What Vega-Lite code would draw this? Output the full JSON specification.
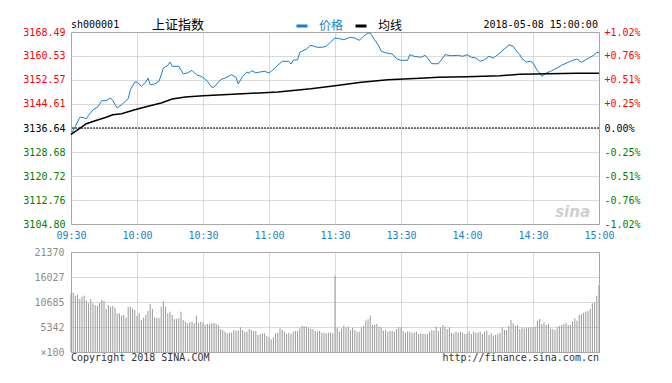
{
  "$schema": "https://vega.github.io/schema/vega-lite/v6.json",
  "autosize": {"type": "pad"},
  "padding": {"left": 22, "top": 18, "right": 33, "bottom": 20},
  "background": "white",
  "spacing": 28,
  "bounds": "flush",
  "config": {
    "view": {"stroke": "#999999", "strokeWidth": 1},
    "axis": {"domain": false, "ticks": false, "gridColor": "#b4b4b4", "gridDash": [1, 1], "gridWidth": 1, "labelFont": "DejaVu Sans Mono", "labelFontSize": 10, "labelFlush": false, "labelOverlap": false, "labelPadding": 5}
  },
  "datasets": {
    "price": [
      {"m":0,"s":"价格","v":3134.32},{"m":4,"s":"价格","v":3140.19},{"m":5,"s":"价格","v":3140.19},{"m":7,"s":"价格","v":3139.73},{"m":8,"s":"价格","v":3140.86},{"m":10,"s":"价格","v":3142.72},{"m":12,"s":"价格","v":3143.51},{"m":13,"s":"价格","v":3144.61},{"m":14,"s":"价格","v":3145.70},{"m":16,"s":"价格","v":3145.70},{"m":18,"s":"价格","v":3146.60},{"m":19,"s":"价格","v":3145.70},{"m":21,"s":"价格","v":3143.28},{"m":23,"s":"价格","v":3144.37},{"m":26,"s":"价格","v":3146.36},{"m":27,"s":"价格","v":3149.35},{"m":29,"s":"价格","v":3151.90},{"m":30,"s":"价格","v":3151.90},{"m":32,"s":"价格","v":3150.48},{"m":34,"s":"价格","v":3151.90},{"m":35,"s":"价格","v":3153.23},{"m":36,"s":"价格","v":3151.01},{"m":38,"s":"价格","v":3151.24},{"m":40,"s":"价格","v":3152.14},{"m":42,"s":"价格","v":3156.55},{"m":44,"s":"价格","v":3157.44},{"m":45,"s":"价格","v":3158.54},{"m":46,"s":"价格","v":3157.11},{"m":49,"s":"价格","v":3157.11},{"m":51,"s":"价格","v":3154.66},{"m":53,"s":"价格","v":3154.89},{"m":55,"s":"价格","v":3155.79},{"m":57,"s":"价格","v":3154.33},{"m":59,"s":"价格","v":3153.79},{"m":60,"s":"价格","v":3153.46},{"m":62,"s":"价格","v":3152.14},{"m":64,"s":"价格","v":3150.15},{"m":65,"s":"价格","v":3150.15},{"m":68,"s":"价格","v":3152.67},{"m":70,"s":"价格","v":3153.23},{"m":73,"s":"价格","v":3154.33},{"m":75,"s":"价格","v":3153.46},{"m":76,"s":"价格","v":3151.24},{"m":78,"s":"价格","v":3153.79},{"m":80,"s":"价格","v":3155.22},{"m":81,"s":"价格","v":3154.79},{"m":82,"s":"价格","v":3155.65},{"m":84,"s":"价格","v":3154.99},{"m":86,"s":"价格","v":3155.22},{"m":88,"s":"价格","v":3155.45},{"m":90,"s":"价格","v":3154.89},{"m":91,"s":"价格","v":3155.45},{"m":93,"s":"价格","v":3156.78},{"m":96,"s":"价格","v":3158.77},{"m":99,"s":"价格","v":3158.77},{"m":100,"s":"价格","v":3157.88},{"m":101,"s":"价格","v":3159.10},{"m":103,"s":"价格","v":3159.30},{"m":104,"s":"价格","v":3161.76},{"m":107,"s":"价格","v":3162.85},{"m":109,"s":"价格","v":3164.08},{"m":112,"s":"价格","v":3163.41},{"m":114,"s":"价格","v":3163.41},{"m":116,"s":"价格","v":3163.75},{"m":118,"s":"价格","v":3165.17},{"m":120,"s":"价格","v":3166.50},{"m":122,"s":"价格","v":3166.27},{"m":124,"s":"价格","v":3165.94},{"m":127,"s":"价格","v":3166.73},{"m":129,"s":"价格","v":3166.50},{"m":131,"s":"价格","v":3165.74},{"m":133,"s":"价格","v":3167.06},{"m":135,"s":"价格","v":3168.16},{"m":136,"s":"价格","v":3168.16},{"m":138,"s":"价格","v":3165.94},{"m":140,"s":"价格","v":3163.75},{"m":141,"s":"价格","v":3162.09},{"m":143,"s":"价格","v":3161.62},{"m":146,"s":"价格","v":3161.19},{"m":148,"s":"价格","v":3159.63},{"m":150,"s":"价格","v":3159.10},{"m":153,"s":"价格","v":3159.10},{"m":154,"s":"价格","v":3160.96},{"m":156,"s":"价格","v":3160.43},{"m":159,"s":"价格","v":3160.10},{"m":161,"s":"价格","v":3160.76},{"m":162,"s":"价格","v":3159.87},{"m":164,"s":"价格","v":3157.97},{"m":167,"s":"价格","v":3157.97},{"m":169,"s":"价格","v":3159.87},{"m":170,"s":"价格","v":3160.96},{"m":173,"s":"价格","v":3160.63},{"m":176,"s":"价格","v":3160.76},{"m":178,"s":"价格","v":3160.43},{"m":180,"s":"价格","v":3160.96},{"m":182,"s":"价格","v":3160.10},{"m":184,"s":"价格","v":3159.87},{"m":186,"s":"价格","v":3158.77},{"m":188,"s":"价格","v":3159.30},{"m":190,"s":"价格","v":3160.43},{"m":192,"s":"价格","v":3159.87},{"m":195,"s":"价格","v":3161.52},{"m":197,"s":"价格","v":3162.95},{"m":198,"s":"价格","v":3163.41},{"m":199,"s":"价格","v":3164.28},{"m":201,"s":"价格","v":3163.75},{"m":202,"s":"价格","v":3162.62},{"m":204,"s":"价格","v":3160.96},{"m":205,"s":"价格","v":3159.63},{"m":207,"s":"价格","v":3158.54},{"m":209,"s":"价格","v":3158.77},{"m":210,"s":"价格","v":3158.21},{"m":212,"s":"价格","v":3155.65},{"m":213,"s":"价格","v":3154.89},{"m":214,"s":"价格","v":3153.79},{"m":216,"s":"价格","v":3154.89},{"m":218,"s":"价格","v":3155.45},{"m":220,"s":"价格","v":3156.22},{"m":223,"s":"价格","v":3157.44},{"m":226,"s":"价格","v":3158.44},{"m":228,"s":"价格","v":3159.10},{"m":230,"s":"价格","v":3159.53},{"m":232,"s":"价格","v":3158.44},{"m":234,"s":"价格","v":3159.30},{"m":236,"s":"价格","v":3160.10},{"m":238,"s":"价格","v":3160.96},{"m":239,"s":"价格","v":3161.76},{"m":240,"s":"价格","v":3161.52},
      {"m":0,"s":"均线","v":3134.50},{"m":4,"s":"均线","v":3136.50},{"m":7,"s":"均线","v":3138.07},{"m":11,"s":"均线","v":3139.07},{"m":16,"s":"均线","v":3140.19},{"m":19,"s":"均线","v":3141.06},{"m":23,"s":"均线","v":3141.39},{"m":29,"s":"均线","v":3142.72},{"m":35,"s":"均线","v":3143.84},{"m":41,"s":"均线","v":3144.94},{"m":46,"s":"均线","v":3146.26},{"m":52,"s":"均线","v":3146.93},{"m":60,"s":"均线","v":3147.36},{"m":69,"s":"均线","v":3147.69},{"m":78,"s":"均线","v":3148.02},{"m":94,"s":"均线","v":3148.59},{"m":109,"s":"均线","v":3149.68},{"m":120,"s":"均线","v":3150.68},{"m":132,"s":"均线","v":3151.80},{"m":144,"s":"均线","v":3152.67},{"m":161,"s":"均线","v":3153.23},{"m":167,"s":"均线","v":3153.46},{"m":180,"s":"均线","v":3153.66},{"m":195,"s":"均线","v":3153.99},{"m":204,"s":"均线","v":3154.46},{"m":230,"s":"均线","v":3154.79},{"m":240,"s":"均线","v":3154.79}
    ],
    "vol": [
      {"m":0,"v":12500},{"m":1,"v":12720},{"m":2,"v":12080},{"m":3,"v":12290},{"m":4,"v":11370},{"m":5,"v":11870},{"m":6,"v":12080},{"m":7,"v":11020},{"m":8,"v":10450},{"m":9,"v":11370},{"m":10,"v":10450},{"m":11,"v":10100},{"m":12,"v":9960},{"m":13,"v":10590},{"m":14,"v":11160},{"m":15,"v":10950},{"m":16,"v":9250},{"m":17,"v":10100},{"m":18,"v":9740},{"m":19,"v":9880},{"m":20,"v":9530},{"m":21,"v":8320},{"m":22,"v":8320},{"m":23,"v":7830},{"m":24,"v":7970},{"m":25,"v":7400},{"m":26,"v":9740},{"m":27,"v":9740},{"m":28,"v":9390},{"m":29,"v":9030},{"m":30,"v":7830},{"m":31,"v":8470},{"m":32,"v":6910},{"m":33,"v":7400},{"m":34,"v":7970},{"m":35,"v":8820},{"m":36,"v":10310},{"m":37,"v":9250},{"m":38,"v":7400},{"m":39,"v":7400},{"m":40,"v":7260},{"m":41,"v":9740},{"m":42,"v":10810},{"m":43,"v":9740},{"m":44,"v":8320},{"m":45,"v":8680},{"m":46,"v":7970},{"m":47,"v":7120},{"m":48,"v":7120},{"m":49,"v":7260},{"m":50,"v":8680},{"m":51,"v":6910},{"m":52,"v":6550},{"m":53,"v":6200},{"m":54,"v":6410},{"m":55,"v":6550},{"m":56,"v":6200},{"m":57,"v":7830},{"m":58,"v":6200},{"m":59,"v":6550},{"m":60,"v":6410},{"m":61,"v":5840},{"m":62,"v":6060},{"m":63,"v":6060},{"m":64,"v":6270},{"m":65,"v":6270},{"m":66,"v":6060},{"m":67,"v":5840},{"m":68,"v":4990},{"m":69,"v":4780},{"m":70,"v":4420},{"m":71,"v":4070},{"m":72,"v":4210},{"m":73,"v":4210},{"m":74,"v":4780},{"m":75,"v":4640},{"m":76,"v":4640},{"m":77,"v":5350},{"m":78,"v":4780},{"m":79,"v":4420},
      {"m":80,"v":4420},{"m":81,"v":4990},{"m":82,"v":4780},{"m":83,"v":4570},{"m":84,"v":4570},{"m":85,"v":3720},{"m":86,"v":3930},{"m":87,"v":4070},{"m":88,"v":4070},{"m":89,"v":3500},{"m":90,"v":3220},{"m":91,"v":2790},{"m":92,"v":3220},{"m":93,"v":4070},{"m":94,"v":4210},{"m":95,"v":5130},{"m":96,"v":4780},{"m":97,"v":4420},{"m":98,"v":3930},{"m":99,"v":4210},{"m":100,"v":3930},{"m":101,"v":4420},{"m":102,"v":4570},{"m":103,"v":4570},{"m":104,"v":5130},{"m":105,"v":5630},{"m":106,"v":5630},{"m":107,"v":5490},{"m":108,"v":5350},{"m":109,"v":4990},{"m":110,"v":4990},{"m":111,"v":4570},{"m":112,"v":4420},{"m":113,"v":4570},{"m":114,"v":4210},{"m":115,"v":4210},{"m":116,"v":4070},{"m":117,"v":4210},{"m":118,"v":4210},{"m":119,"v":4070},{"m":120,"v":16270},{"m":121,"v":5280},{"m":122,"v":4420},{"m":123,"v":5130},{"m":124,"v":5700},{"m":125,"v":5280},{"m":126,"v":5490},{"m":127,"v":4780},{"m":128,"v":5280},{"m":129,"v":4780},{"m":130,"v":4420},{"m":131,"v":4420},{"m":132,"v":5350},{"m":133,"v":5630},{"m":134,"v":6760},{"m":135,"v":7050},{"m":136,"v":7830},{"m":137,"v":5840},{"m":138,"v":5840},{"m":139,"v":6060},{"m":140,"v":5490},{"m":141,"v":5350},{"m":142,"v":4640},{"m":143,"v":4780},{"m":144,"v":4420},{"m":145,"v":4570},{"m":146,"v":4570},{"m":147,"v":4420},{"m":148,"v":4990},{"m":149,"v":5350},{"m":150,"v":5350},{"m":151,"v":4570},{"m":152,"v":4210},{"m":153,"v":4420},{"m":154,"v":4420},{"m":155,"v":4210},{"m":156,"v":4210},{"m":157,"v":4420},{"m":158,"v":3930},{"m":159,"v":4070},{"m":160,"v":3930},
      {"m":161,"v":3930},{"m":162,"v":3930},{"m":163,"v":4420},{"m":164,"v":4780},{"m":165,"v":4640},{"m":166,"v":5490},{"m":167,"v":4570},{"m":168,"v":5350},{"m":169,"v":5840},{"m":170,"v":5490},{"m":171,"v":4990},{"m":172,"v":5350},{"m":173,"v":4210},{"m":174,"v":4070},{"m":175,"v":4420},{"m":176,"v":4210},{"m":177,"v":4420},{"m":178,"v":4210},{"m":179,"v":3930},{"m":180,"v":4070},{"m":181,"v":4420},{"m":182,"v":3930},{"m":183,"v":4420},{"m":184,"v":4210},{"m":185,"v":4210},{"m":186,"v":4420},{"m":187,"v":3930},{"m":188,"v":4420},{"m":189,"v":4640},{"m":190,"v":3720},{"m":191,"v":4070},{"m":192,"v":3570},{"m":193,"v":3720},{"m":194,"v":3930},{"m":195,"v":4210},{"m":196,"v":5350},{"m":197,"v":4780},{"m":198,"v":4780},{"m":199,"v":5630},{"m":200,"v":6910},{"m":201,"v":6200},{"m":202,"v":5630},{"m":203,"v":5840},{"m":204,"v":4990},{"m":205,"v":5350},{"m":206,"v":5130},{"m":207,"v":5280},{"m":208,"v":5280},{"m":209,"v":5350},{"m":210,"v":5350},{"m":211,"v":5490},{"m":212,"v":6760},{"m":213,"v":7120},{"m":214,"v":6060},{"m":215,"v":6340},{"m":216,"v":5840},{"m":217,"v":6060},{"m":218,"v":4990},{"m":219,"v":4990},{"m":220,"v":4780},{"m":221,"v":5350},{"m":222,"v":5630},{"m":223,"v":5840},{"m":224,"v":6060},{"m":225,"v":6340},{"m":226,"v":5840},{"m":227,"v":5840},{"m":228,"v":6550},{"m":229,"v":7260},{"m":230,"v":6760},{"m":231,"v":7970},{"m":232,"v":8180},{"m":233,"v":8470},{"m":234,"v":8680},{"m":235,"v":8820},{"m":236,"v":9250},{"m":237,"v":10450},{"m":238,"v":10660},{"m":239,"v":12080},{"m":240,"v":14350}
    ]
  },
  "vconcat": [
    {
      "width": 528,
      "height": 192,
      "resolve": {"scale": {"y": "shared"}, "axis": {"y": "independent"}},
      "layer": [
        {
          "data": {"name": "price"},
          "mark": {"type": "line", "interpolate": "linear"},
          "encoding": {
            "x": {"field": "m", "type": "quantitative", "scale": {"domain": [0, 240], "nice": false, "zero": false},
              "axis": {"values": [0, 30, 60, 90, 120, 150, 180, 210, 240], "title": null, "grid": true, "labelColor": "#1a80cc", "labelPadding": 6, "labelOverlap": false,
                "labelExpr": "['09:30','10:00','10:30','11:00','11:30','13:30','14:00','14:30','15:00'][round(datum.value / 30)]"}},
            "y": {"field": "v", "type": "quantitative", "scale": {"domain": [3104.80, 3168.49], "nice": false, "zero": false},
              "axis": {"orient": "left", "title": null, "grid": true, "values": [3104.80, 3112.76, 3120.72, 3128.68, 3136.64, 3144.61, 3152.57, 3160.53, 3168.49], "format": ".2f", "labelPadding": 6, "labelOverlap": false,
                "labelColor": {"condition": [{"test": "datum.value > 3136.7", "value": "#ff0000"}, {"test": "datum.value < 3136.6", "value": "#008000"}], "value": "#000000"}}},
            "color": {"field": "s", "type": "nominal", "scale": {"domain": ["价格", "均线"], "range": ["#1a7fcb", "#000000"]},
              "legend": {"orient": "none", "legendX": 224, "legendY": -13, "padding": 0, "direction": "horizontal", "title": null, "symbolType": "stroke", "symbolSize": 121, "symbolStrokeWidth": 3, "labelFont": "Noto Sans CJK SC", "labelFontSize": 12, "labelOffset": 10, "columnPadding": 5,
                "encode": {"labels": {"update": {"fill": {"signal": "datum.value === '价格' ? '#1a7fcb' : '#000000'"}}}}}},
            "strokeWidth": {"condition": {"test": "datum.s === '均线'", "value": 1.5}, "value": 1}
          }
        },
        {
          "data": {"values": [{"pc": 3136.64}]},
          "mark": {"type": "rule", "color": "#000000", "strokeDash": [2, 1], "strokeWidth": 1},
          "encoding": {
            "y": {"field": "pc", "type": "quantitative",
              "axis": {"orient": "right", "title": null, "grid": false, "values": [3104.80, 3112.76, 3120.72, 3128.68, 3136.64, 3144.61, 3152.57, 3160.53, 3168.49], "labelPadding": 5, "labelOverlap": false,
                "labelExpr": "(datum.value > 3136.7 ? '+' : (datum.value < 3136.6 ? '-' : '')) + format(abs(datum.value / 3136.64 - 1) * 100, '.2f') + '%'",
                "labelColor": {"condition": [{"test": "datum.value > 3136.7", "value": "#ff0000"}, {"test": "datum.value < 3136.6", "value": "#008000"}], "value": "#000000"}}}
          }
        },
        {
          "data": {"values": [{"t": "sh000001"}]},
          "mark": {"type": "text", "align": "left", "baseline": "alphabetic", "font": "DejaVu Sans Mono", "fontSize": 10, "color": "#000000"},
          "encoding": {"x": {"datum": 0, "type": "quantitative"}, "y": {"datum": 3169.8, "type": "quantitative", "axis": null}, "text": {"field": "t"}}
        },
        {
          "data": {"values": [{"t": "上证指数"}]},
          "mark": {"type": "text", "align": "center", "baseline": "middle", "font": "Noto Sans CJK SC", "fontSize": 13, "color": "#000000"},
          "encoding": {"x": {"datum": 48.6, "type": "quantitative"}, "y": {"datum": 3170.8, "type": "quantitative", "axis": null}, "text": {"field": "t"}}
        },
        {
          "data": {"values": [{"t": "2018-05-08 15:00:00"}]},
          "mark": {"type": "text", "align": "right", "baseline": "alphabetic", "font": "DejaVu Sans Mono", "fontSize": 10, "color": "#000000"},
          "encoding": {"x": {"datum": 239.5, "type": "quantitative"}, "y": {"datum": 3169.8, "type": "quantitative", "axis": null}, "text": {"field": "t"}}
        },
        {
          "data": {"values": [{"t": "sina"}]},
          "mark": {"type": "text", "align": "center", "baseline": "alphabetic", "font": "DejaVu Sans", "fontSize": 15, "fontStyle": "italic", "fontWeight": "bold", "color": "#cfcfcf"},
          "encoding": {"x": {"datum": 228, "type": "quantitative"}, "y": {"datum": 3107.0, "type": "quantitative", "axis": null}, "text": {"field": "t"}}
        }
      ]
    },
    {
      "width": 528,
      "height": 100,
      "layer": [
        {
          "data": {"name": "vol"},
          "mark": {"type": "rule", "color": "#999999", "strokeWidth": 1},
          "encoding": {
            "x": {"field": "m", "type": "quantitative", "scale": {"domain": [0, 240], "nice": false, "zero": false},
              "axis": {"values": [0, 30, 60, 90, 120, 150, 180, 210, 240], "title": null, "grid": true, "labels": false}},
            "y": {"field": "v", "type": "quantitative", "scale": {"domain": [100, 21370], "nice": false, "zero": false},
              "axis": {"title": null, "grid": true, "values": [100, 5342, 10685, 16027, 21370], "labelColor": "#8c8c8c", "labelPadding": 7, "labelOverlap": false, "labelSeparation": 0,
                "labelExpr": "datum.value == 100 ? '×100' : format(datum.value, 'd')"}},
            "y2": {"datum": 100}
          }
        },
        {
          "data": {"values": [{"t": "Copyright 2018 SINA.COM"}]},
          "mark": {"type": "text", "align": "left", "baseline": "top", "dy": 1, "font": "DejaVu Sans Mono", "fontSize": 10, "color": "#333333"},
          "encoding": {
            "x": {"datum": 0, "type": "quantitative", "axis": {"values": [0, 30, 60, 90, 120, 150, 180, 210, 240], "title": null, "grid": true, "labels": false}},
            "y": {"datum": 100, "type": "quantitative", "axis": {"title": null, "grid": true, "values": [100, 5342, 10685, 16027, 21370], "labelColor": "#8c8c8c", "labelPadding": 7, "labelOverlap": false, "labelSeparation": 0, "labelExpr": "datum.value == 100 ? '×100' : format(datum.value, 'd')"}},
            "text": {"field": "t"}}
        },
        {
          "data": {"values": [{"t": "http://finance.sina.com.cn"}]},
          "mark": {"type": "text", "align": "right", "baseline": "top", "dy": 1, "font": "DejaVu Sans Mono", "fontSize": 10, "color": "#333333"},
          "encoding": {
            "x": {"datum": 240, "type": "quantitative", "axis": {"values": [0, 30, 60, 90, 120, 150, 180, 210, 240], "title": null, "grid": true, "labels": false}},
            "y": {"datum": 100, "type": "quantitative", "axis": {"title": null, "grid": true, "values": [100, 5342, 10685, 16027, 21370], "labelColor": "#8c8c8c", "labelPadding": 7, "labelOverlap": false, "labelSeparation": 0, "labelExpr": "datum.value == 100 ? '×100' : format(datum.value, 'd')"}},
            "text": {"field": "t"}}
        }
      ]
    }
  ]
}
